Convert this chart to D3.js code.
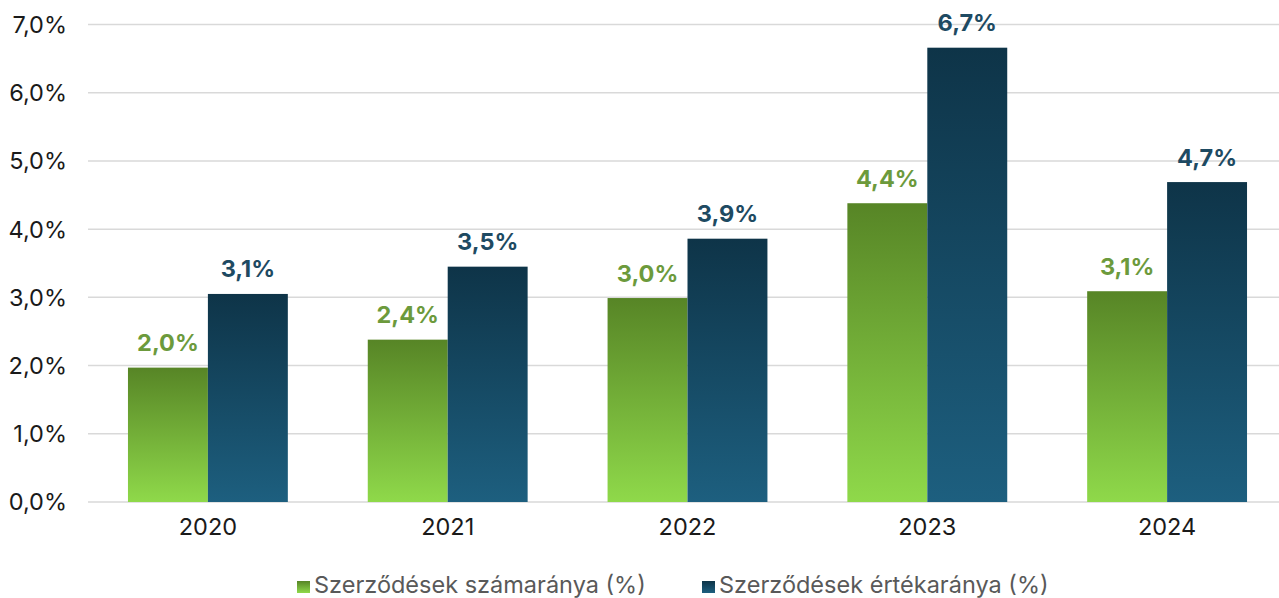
<!DOCTYPE html>
<html>
<head>
<meta charset="utf-8">
<script src="https://cdn.jsdelivr.net/npm/d3@7"></script>
<style>
  html, body { margin: 0; padding: 0; background: #fff; }
  svg text { font-family: Inter, "Noto Sans", sans-serif; }
</style>
</head>
<body>
<svg id="chart" width="1279" height="598"></svg>
<script>
const years = ['2020', '2021', '2022', '2023', '2024'];
const countShare = [1.97, 2.38, 2.99, 4.38, 3.09];
const valueShare = [3.05, 3.45, 3.86, 6.66, 4.69];
const countLabels = ['2,0%', '2,4%', '3,0%', '4,4%', '3,1%'];
const valueLabels = ['3,1%', '3,5%', '3,9%', '6,7%', '4,7%'];
const seriesNames = ['Szerződések számaránya (%)', 'Szerződések értékaránya (%)'];
const yTicks = [0, 1, 2, 3, 4, 5, 6, 7];

const svg = d3.select('#chart');

const plotLeft = 88, plotRight = 1287, plotTop = 24.5, plotBottom = 502;

const x = d3.scaleBand().domain(years).range([plotLeft, plotRight]).paddingInner(0).paddingOuter(0);
const xSub = d3.scaleBand().domain([0, 1]).range([0, x.bandwidth()]).paddingOuter(0.5).paddingInner(0);
const y = d3.scaleLinear().domain([0, 7]).range([plotBottom, plotTop]);

// gradients
const defs = svg.append('defs');
const grads = [
    { id: 'gGreen', c1: '#578526', c2: '#8fd94a' },
    { id: 'gBlue', c1: '#0e3448', c2: '#1d5f7f' }
];
grads.forEach(g => {
    const lg = defs.append('linearGradient').attr('id', g.id)
        .attr('x1', 0).attr('y1', 0).attr('x2', 0).attr('y2', 1);
    lg.append('stop').attr('offset', '0%').attr('stop-color', g.c1);
    lg.append('stop').attr('offset', '100%').attr('stop-color', g.c2);
});

// gridlines
svg.append('g').selectAll('line')
    .data(yTicks)
    .enter()
    .append('line')
    .attr('x1', plotLeft)
    .attr('x2', 1279)
    .attr('y1', d => y(d))
    .attr('y2', d => y(d))
    .style('stroke', '#d9d9d9')
    .style('stroke-width', 1.5);

// y labels
svg.append('g').selectAll('text')
    .data(yTicks)
    .enter()
    .append('text')
    .attr('x', 67)
    .attr('y', d => y(d))
    .attr('dy', '0.36em')
    .attr('text-anchor', 'end')
    .style('font-size', '23.5px')
    .style('fill', '#1a1a1a')
    .text(d => d3.format('.1f')(d).replace('.', ',') + '%');

// x labels
svg.append('g').selectAll('text')
    .data(years)
    .enter()
    .append('text')
    .attr('x', d => x(d) + x.bandwidth() / 2)
    .attr('y', 535)
    .attr('text-anchor', 'middle')
    .style('font-size', '23.5px')
    .style('fill', '#1a1a1a')
    .text(d => d);

const series = [
    { values: countShare, labels: countLabels, fill: 'url(#gGreen)', color: '#6c9a3c' },
    { values: valueShare, labels: valueLabels, fill: 'url(#gBlue)', color: '#1e4a62' }
];

series.forEach((s, si) => {
    const g = svg.append('g');
    g.selectAll('rect')
        .data(years)
        .enter()
        .append('rect')
        .attr('x', d => x(d) + xSub(si))
        .attr('width', xSub.bandwidth())
        .attr('y', (d, i) => y(s.values[i]))
        .attr('height', (d, i) => plotBottom - y(s.values[i]))
        .style('fill', s.fill);

    g.selectAll('text')
        .data(years)
        .enter()
        .append('text')
        .attr('x', d => x(d) + xSub(si) + xSub.bandwidth() / 2)
        .attr('y', (d, i) => y(s.values[i]) - 16.5)
        .attr('text-anchor', 'middle')
        .style('font-size', '23.5px')
        .style('font-weight', 'bold')
        .style('fill', s.color)
        .text((d, i) => s.labels[i]);
});

// legend
const legendX = [297, 702];
const legend = svg.append('g');
seriesNames.forEach((name, i) => {
    legend.append('rect')
        .attr('x', legendX[i])
        .attr('y', 581)
        .attr('width', 13)
        .attr('height', 12)
        .style('fill', series[i].fill);
    legend.append('text')
        .attr('x', legendX[i] + 17)
        .attr('y', 593)
        .style('font-size', '23.5px')
        .style('fill', '#595959')
        .text(name);
});
</script>
</body>
</html>
